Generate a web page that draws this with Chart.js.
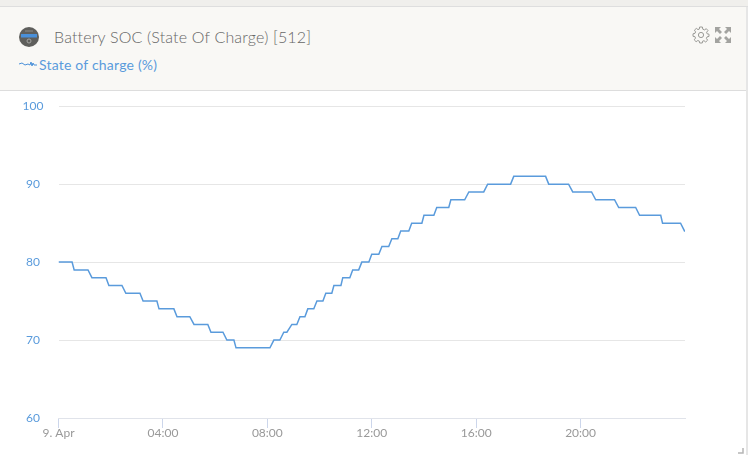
<!DOCTYPE html>
<html>
<head>
<meta charset="utf-8">
<title>Battery SOC</title>
<script src="https://cdn.jsdelivr.net/npm/chart.js@4"></script>
<style>
    html, body { margin: 0; padding: 0; background: #fff; overflow: hidden; }
    body { width: 748px; height: 455px; position: relative; font-family: Lato, "Open Sans", sans-serif; }
    .topStrip { position: absolute; left: 0; top: 0; width: 748px; height: 6px; background: #f0efec; border-bottom: 1px solid #dedede; }
    .header { position: absolute; left: 0; top: 7px; width: 746px; height: 83px; background: #f9f8f5; border-bottom: 1px solid #dddddd; }
    .rightEdge { position: absolute; left: 746px; top: 7px; width: 2px; height: 448px; background: #e6e6e6; }
    .title { position: absolute; left: 54px; top: 27px; font-size: 16px; line-height: 20px; color: #666666; font-weight: 300; white-space: nowrap; letter-spacing: 0.17px; }
    .legendText { position: absolute; left: 39px; top: 56px; font-size: 14px; line-height: 17px; color: #5a9bdc; font-weight: 400; white-space: nowrap; letter-spacing: 0.2px; }
    svg { position: absolute; }
    canvas { position: absolute; left: 0; top: 84px; }
</style>
</head>
<body>
<div class="topStrip"></div>
<div class="header"></div>
<div class="rightEdge"></div>

<svg style="left:19px;top:27px" width="20" height="20" viewBox="0 0 20 20">
    <circle cx="10" cy="10" r="10" fill="#5f5f5c"/>
    <rect x="2" y="7" width="16" height="3.5" fill="#4a90d9"/>
    <rect x="6" y="3.5" width="8" height="1" fill="#8d8d8a"/>
    <circle cx="10" cy="14" r="2" fill="none" stroke="#a5a5a2" stroke-width="1"/>
</svg>
<div class="title">Battery SOC (State Of Charge) [512]</div>

<svg style="left:19px;top:60px" width="18" height="8" viewBox="0 0 18 8">
    <path d="M0 4 L3 3 L6 5 L9 4 L11 5 L12 2 L13 6 L14 3 L15 5 L18 5" fill="none" stroke="#4a90d9" stroke-width="1"/>
</svg>
<div class="legendText">State of charge (%)</div>

<svg style="left:692px;top:26px" width="18" height="18" viewBox="0 0 18 18">
    <circle cx="9" cy="9" r="2.6" fill="none" stroke="#9a9a96" stroke-width="1"/>
    <path d="M7.6 1 H10.4 L10.8 3.2 L12.5 3.9 L14.3 2.7 L16 4.6 L14.6 6.2 L15.1 7.8 L17 8.2 V10.4 L15 10.9 L14.4 12.4 L15.6 14.2 L13.7 16 L12 14.7 L10.6 15.2 L10.3 17 H7.7 L7.3 15.1 L5.8 14.5 L4.1 15.7 L2.2 13.8 L3.5 12.1 L2.9 10.6 L1 10.3 V7.8 L3 7.3 L3.6 5.9 L2.4 4.2 L4.3 2.4 L6 3.6 L7.3 3.1 Z" fill="none" stroke="#9a9a96" stroke-width="1"/>
</svg>
<svg style="left:714px;top:26px" width="18" height="18" viewBox="0 0 18 18">
    <g fill="#a3a3a0">
        <path d="M1 1 H7 L5 3 L8 6 L6 8 L3 5 L1 7 Z"/>
        <path d="M17 1 H11 L13 3 L10 6 L12 8 L15 5 L17 7 Z"/>
        <path d="M1 17 H7 L5 15 L8 12 L6 10 L3 13 L1 11 Z"/>
        <path d="M17 17 H11 L13 15 L10 12 L12 10 L15 13 L17 11 Z"/>
    </g>
</svg>
<svg style="left:738px;top:448px" width="6" height="6" viewBox="0 0 6 6">
    <path d="M0 5 H5 V0" fill="none" stroke="#b5b5b5" stroke-width="1.5"/>
</svg>

<canvas id="socChart" width="746" height="371"></canvas>

<script>
// hours since midnight, each step is a start and end point of the drop/rise
const hours = [
    0, 0.52, 0.60, 1.13, 1.28, 1.82, 1.93, 2.43, 2.58, 3.12, 3.24, 3.77, 3.85,
    4.42, 4.54, 5.03, 5.19, 5.72, 5.84, 6.30, 6.45, 6.72, 6.80, 8.10, 8.25,
    8.48, 8.63, 8.75, 8.94, 9.13, 9.25, 9.44, 9.55, 9.78, 9.90, 10.13, 10.24,
    10.47, 10.55, 10.82, 10.89, 11.16, 11.27, 11.50, 11.62, 11.89, 12.00,
    12.27, 12.39, 12.65, 12.77, 13.00, 13.11, 13.42, 13.53, 13.92, 14.00,
    14.38, 14.49, 14.95, 15.03, 15.56, 15.72, 16.29, 16.44, 17.32, 17.44,
    18.66, 18.78, 19.54, 19.70, 20.42, 20.58, 21.30, 21.46, 22.11, 22.26,
    23.07, 23.14, 23.83, 23.98, 24
];
const soc = [
    80, 80, 79, 79, 78, 78, 77, 77, 76, 76, 75, 75, 74,
    74, 73, 73, 72, 72, 71, 71, 70, 70, 69, 69, 70,
    70, 71, 71, 72, 72, 73, 73, 74, 74, 75, 75, 76,
    76, 77, 77, 78, 78, 79, 79, 80, 80, 81,
    81, 82, 82, 83, 83, 84, 84, 85, 85, 86,
    86, 87, 87, 88, 88, 89, 89, 90, 90, 91,
    91, 90, 90, 89, 89, 88, 88, 87, 87, 86,
    86, 85, 85, 84, 84
];
const xTickHours = [0, 4, 8, 12, 16, 20];
const xTickLabels = ['9. Apr', '04:00', '08:00', '12:00', '16:00', '20:00'];
const yTicks = [60, 70, 80, 90, 100];

const ctx = document.getElementById('socChart').getContext('2d');
const socChart = new Chart(ctx, {
    type: 'line',
    data: {
        datasets: [{
            label: 'State of charge (%)',
            data: hours.map((h, i) => ({ x: h, y: soc[i] })),
            borderColor: '#5a9bdc',
            borderWidth: 1.5,
            pointRadius: 0,
            tension: 0
        }]
    },
    options: {
        responsive: false,
        animation: false,
        layout: { padding: { top: 15, right: 61, bottom: 0, left: 0 } },
        plugins: { legend: { display: false }, tooltip: { enabled: false } },
        scales: {
            x: {
                type: 'linear',
                min: 0,
                max: 24,
                afterBuildTicks: (axis) => { axis.ticks = xTickHours.map(v => ({ value: v })); },
                afterFit: (axis) => { axis.height = 37; },
                border: { color: '#e0e3ea' },
                grid: { drawOnChartArea: false, drawTicks: true, tickLength: 10, tickColor: '#ccd6eb' },
                ticks: {
                    maxRotation: 0,
                    autoSkip: false,
                    padding: -2,
                    color: '#999999',
                    font: { family: 'Lato', size: 12 },
                    callback: (value) => xTickLabels[xTickHours.indexOf(value)]
                }
            },
            y: {
                min: 60,
                max: 100,
                afterBuildTicks: (axis) => { axis.ticks = yTicks.map(v => ({ value: v })); },
                afterFit: (axis) => { axis.width = 58.5; },
                border: { display: false },
                grid: { color: '#e6e6e6', drawTicks: false },
                ticks: {
                    crossAlign: 'center',
                    padding: 15,
                    color: '#5a9bdc',
                    font: { family: 'Lato', size: 12 }
                }
            }
        }
    }
});
</script>
</body>
</html>
